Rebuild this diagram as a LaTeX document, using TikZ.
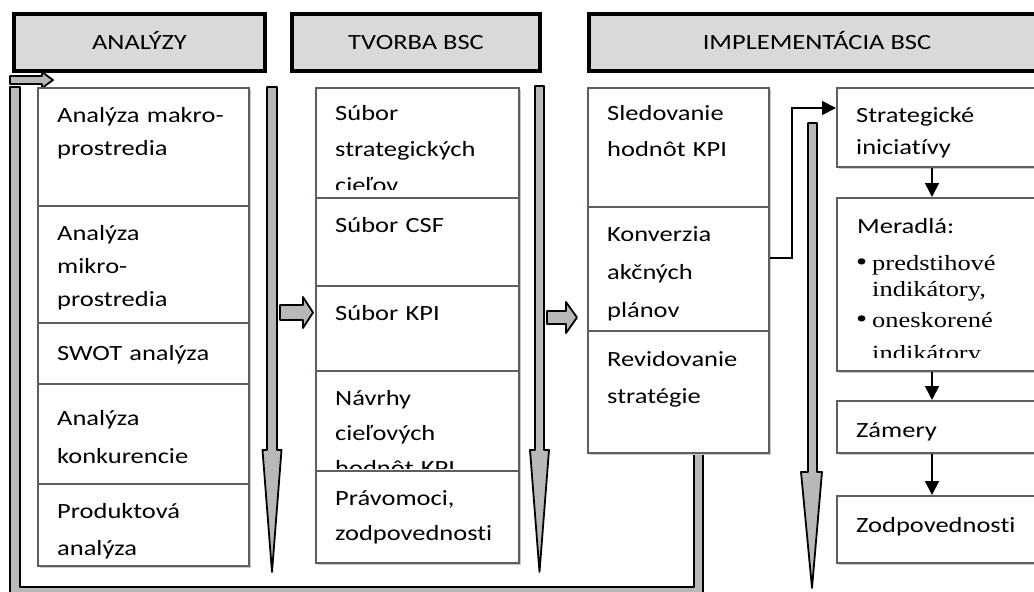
\documentclass[tikz,border=0pt]{standalone}
\usepackage{fontspec}
\setmainfont{Carlito}[FakeStretch=1.22,Ligatures=NoCommon]
\newfontfamily\serifm{Liberation Serif}[FakeStretch=1.22]
\usetikzlibrary{arrows.meta,calc}
\definecolor{hdrgray}{HTML}{D9D9D9}
\definecolor{arrgray}{HTML}{B8B8B8}
\definecolor{boxline}{HTML}{5A5F5F}
\definecolor{shadowc}{HTML}{C8C8C8}
\newcommand\shadbox[5]{%
  \fill[shadowc] (#2+3,#3+3) rectangle (#4+3,#5+3);
  \node[bx, anchor=north west, minimum width={#4-#2}, minimum height={#5-#3}] (#1) at (#2,#3) {};}
\newcommand\bxtext[5]{\node[txt, font=\fontsize{21.7}{#4}\selectfont] (#1) at (#2,#3) {#5};}
\begin{document}
\begin{tikzpicture}[x=1pt,y=-1pt,
  hdr/.style={draw=black, line width=4pt, fill=hdrgray, inner sep=0pt, text height=14pt, text depth=0pt, font=\fontsize{21.7}{26}\selectfont},
  bx/.style={draw=boxline, line width=2pt, fill=white, inner sep=0pt},
  txt/.style={anchor=base west, inner sep=0pt, text width=190pt, align=left},
  stxt/.style={anchor=base west, inner sep=0pt, font=\serifm\fontsize{21.7}{26}\selectfont},
  garrow/.style={fill=arrgray, draw=black, line width=1.8pt, line join=round},
  conn/.style={draw=black, line width=1.6pt, -{Triangle[length=14pt,width=14pt]}}]
\useasboundingbox (0,0) rectangle (1034,592);
\clip (0,0) rectangle (1034,592);

% headers
\node[hdr, anchor=north west, minimum width=251, minimum height=57] (h1) at (12,12) {ANALÝZY};
\node[hdr, anchor=north west, minimum width=248, minimum height=57] (h2) at (290,12) {TVORBA BSC};
\node[hdr, anchor=north west, minimum width=456, minimum height=57] (h3) at (587,12) {IMPLEMENTÁCIA BSC};

% feedback band
\draw[garrow] (10,87) -- (10,600) -- (703,600) -- (703,452) -- (694,452) -- (694,587) -- (20,587) -- (20,87) -- cycle;
\draw[garrow] (10,76) -- (42,76) -- (42,72) -- (53,80) -- (42,88) -- (42,84) -- (10,84) -- cycle;

% column 1
\shadbox{a1}{37}{87}{248}{205}
\shadbox{a2}{37}{205}{248}{322}
\shadbox{a3}{37}{322}{248}{383}
\shadbox{a4}{37}{383}{248}{483}
\shadbox{a5}{37}{483}{248}{565}
\bxtext{ta1}{57}{122}{33}{Analýza makro-\\prostredia}
\bxtext{ta2}{57}{240}{33}{Analýza\\mikro-\\prostredia}
\bxtext{ta3}{57}{360}{33}{SWOT analýza}
\bxtext{ta4}{57}{425}{38}{Analýza\\konkurencie}
\bxtext{ta5}{57}{518}{37}{Produktová\\analýza}

% column 2
\shadbox{b1}{315}{87}{518}{197}
\shadbox{b2}{315}{197}{518}{285}
\shadbox{b3}{315}{285}{518}{370}
\shadbox{b4}{315}{370}{518}{470}
\shadbox{b5}{315}{470}{518}{562}
\begin{scope}
\clip (315,87) rectangle (518,189);
\bxtext{tb1}{335}{120}{36}{Súbor\\strategických\\cieľov}
\end{scope}
\bxtext{tb2}{335}{232}{36}{Súbor CSF}
\bxtext{tb3}{335}{320}{36}{Súbor KPI}
\begin{scope}
\clip (315,370) rectangle (518,468);
\bxtext{tb4}{335}{405}{35}{Návrhy\\cieľových\\hodnôt KPI}
\end{scope}
\bxtext{tb5}{335}{505}{35}{Právomoci,\\zodpovednosti}

% column 3
\shadbox{c1}{587}{87}{768}{206}
\shadbox{c2}{587}{206}{768}{330}
\shadbox{c3}{587}{330}{768}{452}
\bxtext{tc1}{607}{120}{36}{Sledovanie\\hodnôt KPI}
\bxtext{tc2}{607}{241}{38}{Konverzia\\akčných\\plánov}
\bxtext{tc3}{607}{366}{37}{Revidovanie\\stratégie}

% column 4
\shadbox{d1}{836}{87}{1045}{166}
\shadbox{d2}{836}{197}{1045}{370}
\shadbox{d3}{836}{400}{1045}{452}
\shadbox{d4}{836}{495}{1045}{562}
\bxtext{td1}{856}{122}{32}{Strategické\\iniciatívy}
\bxtext{td2}{857}{233}{32}{Meradlá:}
\begin{scope}
\clip (836,197) rectangle (1045,357);
\node[stxt] (s1) at (856,270) {\makebox[16pt][l]{\fontsize{26}{26}\selectfont•}predstihové};
\node[stxt] (s2) at (872,296) {indikátory,};
\node[stxt] (s3) at (856,327) {\makebox[16pt][l]{\fontsize{26}{26}\selectfont•}oneskorené};
\node[stxt] (s4) at (872,360) {indikátory};
\end{scope}
\bxtext{td3}{856}{437}{32}{Zámery}
\bxtext{td4}{856}{532}{32}{Zodpovednosti}

% gray process arrows
\draw[garrow] (267,87) -- (277,87) -- (277,450) -- (281.5,450) -- (272,572) -- (262.5,450) -- (267,450) -- cycle;
\draw[garrow] (535,86) -- (544,86) -- (544,450) -- (549,450) -- (539.5,572) -- (530,450) -- (535,450) -- cycle;
\draw[garrow] (808,123) -- (817,123) -- (817,472) -- (822,472) -- (812,588) -- (801,472) -- (808,472) -- cycle;
\draw[garrow] (280,305) -- (303,305) -- (303,297) -- (313,312.5) -- (303,328) -- (303,320) -- (280,320) -- cycle;
\draw[garrow] (547,311) -- (566,311) -- (566,302) -- (577,317.5) -- (566,333) -- (566,324) -- (547,324) -- cycle;

% connectors
\coordinate (ax) at (932,0);
\draw[conn] ([yshift=11pt]c2.east) -- ++(22,0) |- ([yshift=19.5pt]d1.west);
\draw[conn] (d1.south -| ax) -- (d2.north -| ax);
\draw[conn] (d2.south -| ax) -- (d3.north -| ax);
\draw[conn] (d3.south -| ax) -- (d4.north -| ax);
\end{tikzpicture}
\end{document}
